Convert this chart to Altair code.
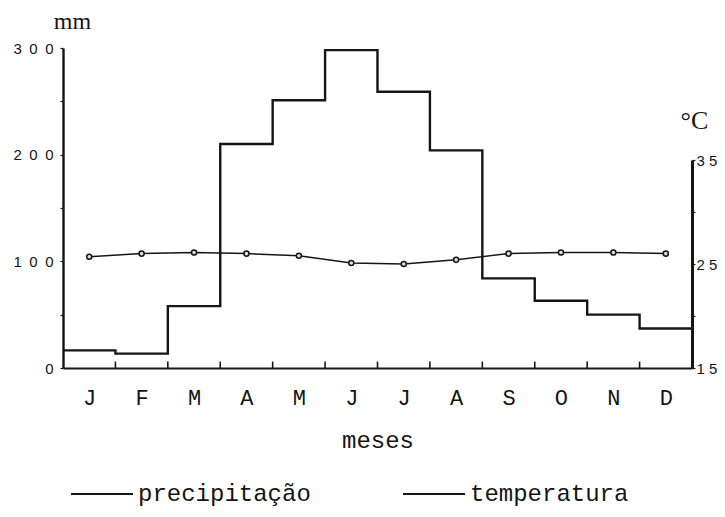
import json
import altair as alt
import pandas as pd

# ---- data ----
months = ["J", "F", "M", "A", "M", "J", "J", "A", "S", "O", "N", "D"]
precip = [16.5, 13.5, 58, 210, 251, 298, 259, 204, 84, 63, 50, 37]          # mm
temp = [25.7, 26.0, 26.1, 26.0, 25.8, 25.1, 25.0, 25.4, 26.0, 26.1, 26.1, 26.0]  # °C
mm_ticks = [0, 50, 100, 150, 200, 250, 300]
mm_labels = [0, 100, 200, 300]
c_ticks = [15, 20, 25, 30, 35]
c_labels = [15, 25, 35]
series = ["precipitação", "temperatura"]

INK = "#151515"
MONO = "Liberation Mono"
SANS = "Liberation Sans"
SERIF = "Liberation Serif"
W, H = 629, 320

step_df = pd.DataFrame({
    "pos": list(range(len(precip) + 1)),
    "mm": precip + [precip[-1]],
    "serie": series[0],
})
temp_df = pd.DataFrame({
    "pos": [i + 0.5 for i in range(len(temp))],
    "c": temp,
    "mes": months,
})
bound_df = pd.DataFrame({"pos": list(range(1, len(months))), "mm": 0, "mm2": 6})


def spaced(v, sep):
    return sep.join(str(v))


def label_expr(labels, sep):
    expr = "''"
    for v in reversed(labels):
        expr = f"datum.value == {v} ? '{spaced(v, sep)}' : ({expr})"
    return expr


month_expr = json.dumps(months) + "[floor(datum.value)]"

x_axis = alt.Axis(
    values=[i + 0.5 for i in range(len(months))],
    labelExpr=month_expr,
    ticks=False, tickSize=0, grid=False,
    domainColor=INK, domainWidth=2.2,
    labelFont=MONO, labelFontSize=22, labelColor=INK, labelPadding=19,
    title="meses", titleFont=MONO, titleFontSize=24, titleFontWeight="normal",
    titleColor=INK, titlePadding=20,
)
x_scale = alt.Scale(domain=[0, len(months)], nice=False, zero=False)

mm_axis = alt.Axis(
    values=mm_ticks, labelExpr=label_expr(mm_labels, "\u2002"),
    grid=False, tickSize=3, tickColor=INK, tickWidth=1.2,
    domainColor=INK, domainWidth=2.4,
    labelFont=SANS, labelFontSize=15, labelColor=INK, labelPadding=7,
    title="mm", titleAngle=0, titleFont=SERIF, titleFontSize=24,
    titleFontWeight="normal", titleColor=INK, titleAlign="center",
    titleBaseline="alphabetic", titleX=9, titleY=-20,
)
mm_scale = alt.Scale(domain=[0, 300], nice=False)

c_axis = alt.Axis(
    orient="right", values=c_ticks, labelExpr=label_expr(c_labels, " "),
    grid=False, tickSize=3, tickColor=INK, tickWidth=1.2,
    domainColor=INK, domainWidth=3,
    labelFont=SANS, labelFontSize=15, labelColor=INK, labelPadding=1,
    title="°C", titleAngle=0, titleFont=SERIF, titleFontSize=26,
    titleFontWeight="normal", titleColor=INK, titleAlign="left",
    titleBaseline="alphabetic", titleX=-12, titleY=80,
)
c_scale = alt.Scale(domain=[15, 35], range=[H, 112], nice=False, zero=False)

color_scale = alt.Scale(domain=series, range=[INK, INK])

step = alt.Chart(step_df).mark_line(
    interpolate="step-after", strokeWidth=2.4, color=INK
).encode(
    x=alt.X("pos:Q", scale=x_scale, axis=x_axis),
    y=alt.Y("mm:Q", scale=mm_scale, axis=mm_axis),
    color=alt.Color(
        "serie:N", scale=color_scale,
        legend=alt.Legend(
            orient="none", legendX=7, legendY=414, direction="horizontal",
            title=None, symbolType="stroke", symbolSize=3844, symbolStrokeWidth=2,
            labelFont=MONO, labelFontSize=24, labelColor=INK, labelOffset=4,
            labelLimit=400, columnPadding=88, padding=0,
        ),
    ),
)

bounds = alt.Chart(bound_df).mark_rule(color=INK, strokeWidth=1.6).encode(
    x=alt.X("pos:Q", scale=x_scale, axis=x_axis),
    y=alt.Y("mm:Q", scale=mm_scale, axis=mm_axis),
    y2="mm2:Q",
)

temp_line = alt.Chart(temp_df).mark_line(strokeWidth=1.5).encode(
    x=alt.X("pos:Q", scale=x_scale, axis=x_axis),
    y=alt.Y("c:Q", scale=c_scale, axis=c_axis),
    color=alt.datum(series[1]),
)

temp_pts = alt.Chart(temp_df).mark_point(
    shape="circle", filled=True, fill="#dddddd", stroke=INK, strokeWidth=1.5,
    size=26, opacity=1,
).encode(
    x=alt.X("pos:Q", scale=x_scale, axis=x_axis),
    y=alt.Y("c:Q", scale=c_scale, axis=c_axis),
)

left = alt.layer(step, bounds)
right = alt.layer(temp_line, temp_pts)

chart = alt.layer(left, right).resolve_scale(y="independent").properties(
    width=W, height=H,
    autosize=alt.AutoSizeParams(type="none"),
    padding={"left": 55, "top": 40, "right": 25, "bottom": 141},
    background="white",
).configure_view(stroke=None)

chart.save("out.html", embed_options={"renderer": "svg", "actions": False})
